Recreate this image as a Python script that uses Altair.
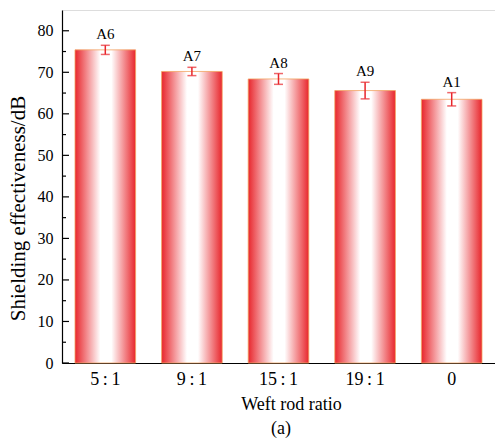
import altair as alt
import pandas as pd

# Weft rod ratio groups and their measured shielding effectiveness
ratios = ["5\u2009:\u20091", "9\u2009:\u20091", "15\u2009:\u20091", "19\u2009:\u20091", "0"]
samples = ["A6", "A7", "A8", "A9", "A1"]
se_mean = [75.4, 70.2, 68.4, 65.6, 63.5]
se_err = [1.1, 1.0, 1.3, 2.0, 1.6]

y_major = [0, 10, 20, 30, 40, 50, 60, 70, 80]
y_minor = [5, 15, 25, 35, 45, 55, 65, 75]

FONT = "Liberation Serif"
RED = "#e8262c"

df = pd.DataFrame({
    "ratio": ratios,
    "sample": samples,
    "se": se_mean,
    "lo": [m - e for m, e in zip(se_mean, se_err)],
    "hi": [m + e for m, e in zip(se_mean, se_err)],
})

x = alt.X(
    "ratio:N",
    sort=ratios,
    scale=alt.Scale(paddingInner=0.3, paddingOuter=0.15),
    axis=alt.Axis(
        title="Weft rod ratio",
        labelAngle=0,
        ticks=False,
        labelFont=FONT,
        labelFontSize=18,
        labelColor="black",
        labelPadding=7,
        titleFont=FONT,
        titleFontSize=18,
        titleFontWeight="normal",
        titleColor="black",
        titleX=229,
        titleY=46,
        titleBaseline="alphabetic",
        domainColor="black",
        domainWidth=1.2,
    ),
)
yscale = alt.Scale(domain=[0, 85], nice=False)

bar_fill = alt.Gradient(
    gradient="linear",
    x1=0, x2=1, y1=0, y2=0,
    stops=[
        alt.GradientStop(offset=0.0, color=RED),
        alt.GradientStop(offset=0.42, color="#ffffff"),
        alt.GradientStop(offset=0.6, color="#ffffff"),
        alt.GradientStop(offset=1.0, color=RED),
    ],
)

bars = alt.Chart(df).mark_bar(
    fill=bar_fill, stroke="#f2a463", strokeWidth=0.8
).encode(
    x=x,
    y=alt.Y(
        "se:Q",
        scale=yscale,
        axis=alt.Axis(
            title="Shielding effectiveness/dB",
            values=y_major,
            ticks=False,
            grid=False,
            labelFont=FONT,
            labelFontSize=16,
            labelColor="black",
            labelPadding=9,
            titleFont=FONT,
            titleFontSize=21,
            titleFontWeight="normal",
            titleColor="black",
            titleAngle=-90,
            titleX=-44,
            titleY=198,
            titleAlign="center",
            titleBaseline="middle",
            domainColor="black",
            domainWidth=1.2,
        ),
    ),
)

err_line = alt.Chart(df).mark_rule(color=RED, strokeWidth=1.5).encode(
    x=alt.X("ratio:N", sort=ratios),
    y=alt.Y("lo:Q", scale=yscale),
    y2="hi:Q",
)
cap_lo = alt.Chart(df).mark_tick(
    color=RED, orient="horizontal", size=9, thickness=1.5
).encode(x=alt.X("ratio:N", sort=ratios), y=alt.Y("lo:Q", scale=yscale))
cap_hi = alt.Chart(df).mark_tick(
    color=RED, orient="horizontal", size=9, thickness=1.5
).encode(x=alt.X("ratio:N", sort=ratios), y=alt.Y("hi:Q", scale=yscale))

labels = alt.Chart(df).mark_text(
    font=FONT, fontSize=15, color="black", baseline="bottom", dy=-3
).encode(
    x=alt.X("ratio:N", sort=ratios),
    y=alt.Y("hi:Q", scale=yscale),
    text="sample:N",
)

# inward-pointing y ticks
major_ticks = alt.Chart(pd.DataFrame({"v": y_major})).mark_rule(
    color="black", strokeWidth=1.2
).encode(x=alt.value(0), x2=alt.value(7), y=alt.Y("v:Q", scale=yscale))
minor_ticks = alt.Chart(pd.DataFrame({"v": y_minor})).mark_rule(
    color="black", strokeWidth=1.2
).encode(x=alt.value(0), x2=alt.value(4), y=alt.Y("v:Q", scale=yscale))

caption = alt.Chart(pd.DataFrame({"t": ["(a)"]})).mark_text(
    font=FONT, fontSize=18, color="black", baseline="alphabetic", align="center"
).encode(x=alt.value(219), y=alt.value(424), text="t:N")

chart = alt.layer(
    bars, err_line, cap_lo, cap_hi, labels, major_ticks, minor_ticks, caption
).properties(
    width=433,
    height=353,
    autosize=alt.AutoSizeParams(type="none"),
    padding={"left": 62, "top": 10, "right": 0, "bottom": 80},
).configure_view(
    stroke="black", strokeWidth=1.5
).configure(background="white")

chart.save("out.html", embed_options={"renderer": "svg", "actions": False})
